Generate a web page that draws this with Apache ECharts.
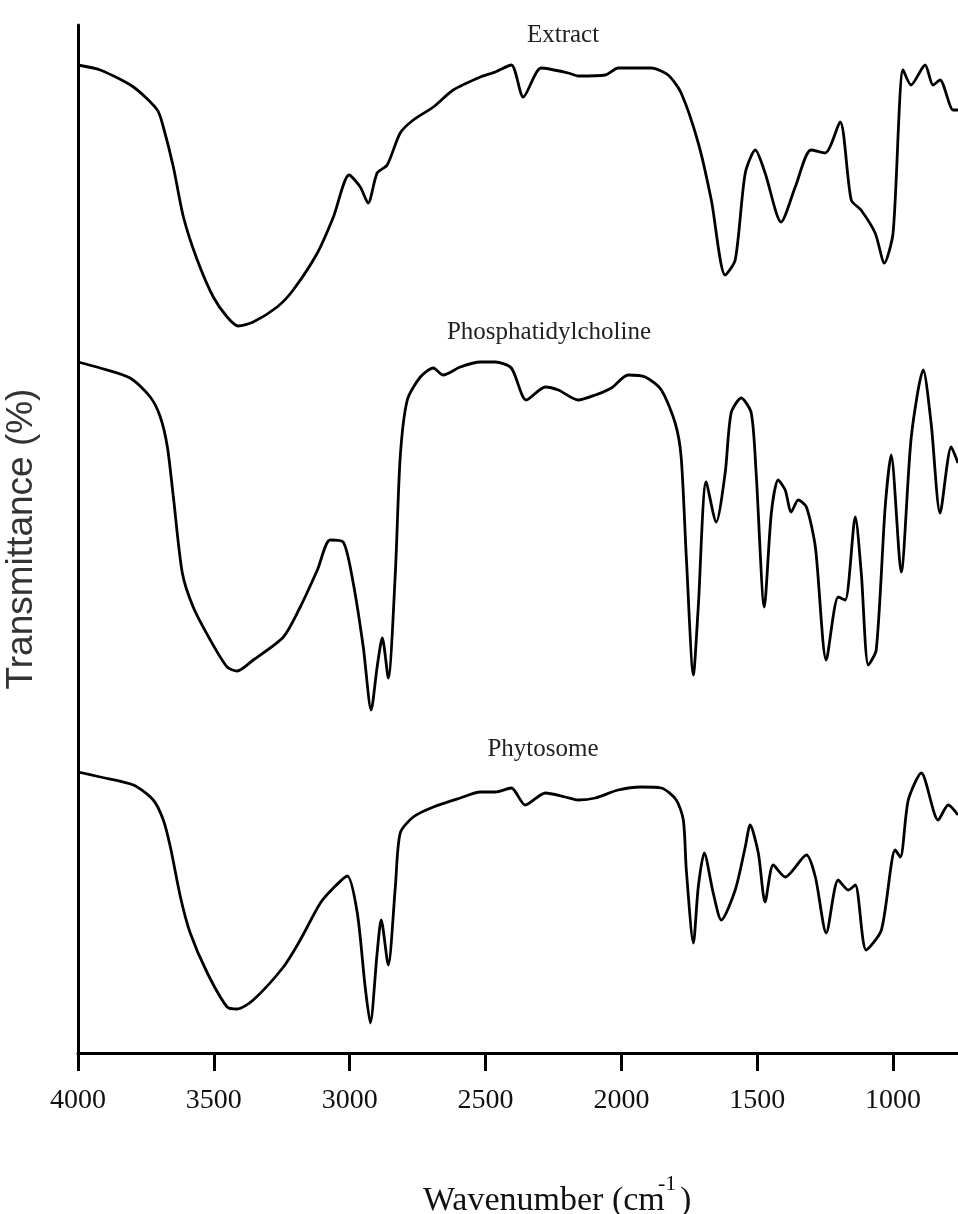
<!DOCTYPE html>
<html>
<head>
<meta charset="utf-8">
<script src="https://cdn.jsdelivr.net/npm/echarts@6/dist/echarts.min.js"></script>
<style>
html,body{margin:0;padding:0;background:#fff;}
#chart{width:958px;height:1214px;}
</style>
</head>
<body>
<div id="chart"></div>
<script>
// Wavenumber tick labels (cm-1)
const tickValues = [4000, 3500, 3000, 2500, 2000, 1500, 1000];

// Extract spectrum (wavenumber, transmittance offset a.u.)
const extractWn = [4000,3918,3796,3708,3686,3649,3612,3561,3502,3451,3410,3355,3267,3208,3119,3060,3002,2961,2932,2899,2862,2814,2766,2692,2619,2519,2464,2405,2361,2295,2195,2159,2059,2012,1890,1828,1780,1717,1669,1618,1581,1544,1507,1471,1412,1360,1302,1250,1195,1154,1118,1066,1032,1000,963,934,882,853,827,779,761];
const extractT = [98.8,98.3,96.6,94.3,92.6,88.6,83.6,79.3,75.6,73.6,72.7,73.1,74.6,76.3,80.0,83.6,87.8,86.6,85.0,88.0,88.8,92.0,93.3,94.6,96.3,97.6,98.1,98.8,95.6,98.5,98.0,97.7,97.8,98.5,98.5,97.8,96.0,91.0,85.3,77.8,79.3,88.0,90.3,88.0,83.1,86.6,90.3,90.0,93.1,85.3,84.3,82.0,79.0,82.0,98.3,96.8,98.8,96.8,97.3,94.3,94.3];

// Phosphatidylcholine spectrum
const pcWn = [4000,3918,3808,3734,3697,3671,3649,3616,3576,3513,3451,3414,3355,3244,3182,3119,3072,3024,2987,2950,2921,2899,2880,2858,2832,2814,2788,2740,2692,2656,2593,2519,2464,2405,2350,2280,2232,2159,2096,2037,1975,1912,1853,1802,1780,1761,1735,1717,1688,1651,1618,1596,1559,1522,1504,1474,1448,1423,1397,1375,1349,1319,1286,1246,1202,1176,1139,1117,1091,1062,1029,1007,970,933,889,860,827,786,761];
const pcT = [69.1,68.5,67.5,65.6,63.6,60.6,55.6,48.0,44.6,41.3,38.6,38.2,39.3,41.6,44.6,48.3,51.3,51.1,47.0,40.6,34.3,38.6,41.5,37.5,48.0,59.6,65.3,67.6,68.5,67.8,68.6,69.1,69.1,68.5,65.3,66.6,66.3,65.3,65.8,66.5,67.8,67.6,66.3,63.0,59.6,49.6,37.8,44.6,57.1,53.1,58.0,64.0,65.5,64.0,58.0,44.6,54.0,57.3,56.3,54.1,55.3,54.6,50.6,39.3,45.6,45.3,53.6,48.0,38.8,40.3,54.6,59.8,48.1,61.6,68.3,63.0,54.0,60.6,59.0];

// Phytosome spectrum
const phWn = [4000,3918,3796,3723,3686,3660,3623,3587,3524,3451,3414,3355,3244,3182,3108,3060,3009,2972,2943,2924,2899,2884,2858,2832,2814,2766,2692,2593,2519,2464,2405,2354,2280,2206,2159,2096,2012,1927,1853,1798,1772,1761,1735,1717,1695,1662,1632,1581,1544,1526,1496,1471,1441,1397,1319,1286,1246,1202,1165,1139,1099,1043,992,973,944,896,834,797,761];
const phT = [28.1,27.6,26.8,25.3,23.3,20.6,15.6,12.0,8.0,4.6,4.4,5.3,8.6,11.3,15.0,16.5,17.7,14.0,6.6,3.0,10.0,13.3,8.8,16.6,22.0,23.6,24.6,25.5,26.1,26.1,26.5,24.8,26.0,25.6,25.3,25.5,26.3,26.6,26.5,25.3,23.3,18.3,11.0,16.6,20.0,16.0,13.3,16.3,20.6,22.8,20.0,15.1,18.8,17.6,19.8,17.6,12.0,17.3,16.3,16.8,10.3,12.3,20.3,19.6,25.3,28.0,23.3,24.8,23.8];

const seriesNames = ['Extract', 'Phosphatidylcholine', 'Phytosome'];

const pairs = (xs, ys) => xs.map((x, i) => [x, ys[i]]);

const chart = echarts.init(document.getElementById('chart'), null, {renderer: 'canvas'});

const lineStyle = {color: '#000', width: 2.8};
const mkSeries = (name, xs, ys) => ({
  name: name,
  type: 'line',
  data: pairs(xs, ys),
  showSymbol: false,
  smooth: 0.25,
  lineStyle: lineStyle,
  itemStyle: {color: '#000'},
  z: 3
});

const serifFont = '"Liberation Serif", "Times New Roman", serif';

chart.setOption({
  backgroundColor: '#fff',
  animation: false,
  grid: {left: 78, right: 0, top: 25, bottom: 161, containLabel: false, outerBoundsMode: 'none'},
  xAxis: {
    type: 'value',
    inverse: true,
    min: 761,
    max: 4000,
    axisLine: {show: true, onZero: false, lineStyle: {color: '#000', width: 3}},
    axisTick: {show: true, length: 18, inside: false, customValues: tickValues, lineStyle: {color: '#000', width: 3}},
    axisLabel: {
      customValues: tickValues,
      formatter: v => String(v),
      color: '#111',
      fontFamily: serifFont,
      fontSize: 28,
      margin: 34
    },
    splitLine: {show: false}
  },
  yAxis: {
    type: 'value',
    min: 0,
    max: 102.8,
    name: 'Transmittance (%)',
    nameLocation: 'middle',
    nameGap: 38,
    nameRotate: 90,
    nameTextStyle: {
      color: '#333',
      fontFamily: '"Liberation Sans", Arial, sans-serif',
      fontSize: 37
    },
    axisLine: {show: true, onZero: false, lineStyle: {color: '#000', width: 3}},
    axisTick: {show: false},
    axisLabel: {show: false},
    splitLine: {show: false}
  },
  graphic: [
    {type: 'text', x: 563, y: 35, style: {text: seriesNames[0], align: 'center', verticalAlign: 'middle', fill: '#222', font: '25px ' + serifFont}},
    {type: 'text', x: 549, y: 332, style: {text: seriesNames[1], align: 'center', verticalAlign: 'middle', fill: '#222', font: '25px ' + serifFont}},
    {type: 'text', x: 543, y: 749, style: {text: seriesNames[2], align: 'center', verticalAlign: 'middle', fill: '#222', font: '25px ' + serifFont}},
    {type: 'text', x: 423, y: 1218, style: {text: 'Wavenumber (cm', align: 'left', verticalAlign: 'bottom', fill: '#111', font: '34px ' + serifFont}},
    {type: 'text', x: 658, y: 1195, style: {text: '-1', align: 'left', verticalAlign: 'bottom', fill: '#111', font: '22px ' + serifFont}},
    {type: 'text', x: 680, y: 1218, style: {text: ')', align: 'left', verticalAlign: 'bottom', fill: '#111', font: '34px ' + serifFont}}
  ],
  series: [
    mkSeries(seriesNames[0], extractWn, extractT),
    mkSeries(seriesNames[1], pcWn, pcT),
    mkSeries(seriesNames[2], phWn, phT)
  ]
});
</script>
</body>
</html>
